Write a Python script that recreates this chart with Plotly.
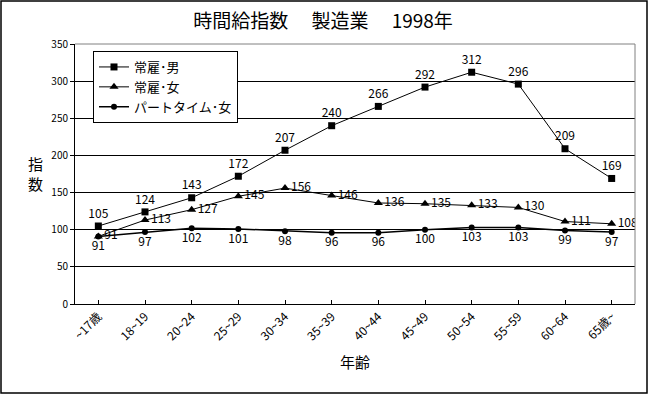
import plotly.graph_objects as go

categories = ["~17歳", "18~19", "20~24", "25~29", "30~34", "35~39",
              "40~44", "45~49", "50~54", "55~59", "60~64", "65歳~"]
male_regular = [105, 124, 143, 172, 207, 240, 266, 292, 312, 296, 209, 169]
female_regular = [91, 113, 127, 145, 156, 146, 136, 135, 133, 130, 111, 108]
female_parttime = [91, 97, 102, 101, 98, 96, 96, 100, 103, 103, 99, 97]
series_names = ["常雇･男", "常雇･女", "パートタイム･女"]
y_ticks = [0, 50, 100, 150, 200, 250, 300, 350]

W, H = 649, 395
ML, MR, MT, MB = 75, 14, 44, 91
PW, PH = W - ML - MR, H - MT - MB

FONT = "Noto Sans CJK JP, Liberation Sans, sans-serif"

fig = go.Figure()
fig.add_trace(go.Scatter(
    x=categories, y=male_regular, name=series_names[0],
    mode="lines+markers+text", text=[str(v) for v in male_regular],
    textposition="top center", textfont=dict(size=12, color="black"),
    line=dict(color="black", width=1),
    marker=dict(symbol="square", size=7, color="black")))
fig.add_trace(go.Scatter(
    x=categories, y=female_regular, name=series_names[1],
    mode="lines+markers+text", text=[str(v) for v in female_regular],
    textposition="middle right", textfont=dict(size=12, color="black"),
    line=dict(color="black", width=1),
    marker=dict(symbol="triangle-up", size=8, color="black")))
fig.add_trace(go.Scatter(
    x=categories, y=female_parttime, name=series_names[2],
    mode="lines+markers+text", text=[str(v) for v in female_parttime],
    textposition="bottom center", textfont=dict(size=12, color="black"),
    line=dict(color="black", width=1.5),
    marker=dict(symbol="circle", size=6, color="black")))

# frame around the whole chart and gray top/right plot edges
fig.add_shape(type="rect", xref="paper", yref="paper",
              x0=(1 - ML) / PW, x1=(W - 2 - ML) / PW,
              y0=-(MB - 2) / PH, y1=1 + (MT - 1) / PH,
              line=dict(color="black", width=1.5), layer="above")
fig.add_shape(type="line", xref="paper", yref="paper", x0=0, x1=1, y0=1, y1=1,
              line=dict(color="#808080", width=1))
fig.add_shape(type="line", xref="paper", yref="paper", x0=1, x1=1, y0=0, y1=1,
              line=dict(color="#808080", width=1))

# vertical (upright) y-axis title
fig.add_annotation(text="指<br>数", xref="paper", yref="paper",
                   x=(35 - ML) / PW, y=1 - (173 - MT) / PH, showarrow=False,
                   xanchor="center", yanchor="middle",
                   font=dict(size=15, family=FONT, color="black"))

fig.update_layout(
    width=W, height=H,
    margin=dict(l=ML, r=MR, t=MT, b=MB, autoexpand=False),
    paper_bgcolor="white", plot_bgcolor="white",
    font=dict(family=FONT, size=11, color="black"),
    title=dict(text="時間給指数　 製造業　 1998年", x=(323 - ML) / PW,
               xref="paper", xanchor="center",
               y=1 - 21 / H, yanchor="middle",
               font=dict(size=19, family=FONT, color="black")),
    showlegend=True,
    legend=dict(x=(93 - ML) / PW, y=1 - (51 - MT) / PH, xanchor="left", yanchor="top",
                bgcolor="white", bordercolor="black", borderwidth=1,
                font=dict(size=13, family=FONT), tracegroupgap=2,
                itemwidth=30),
    xaxis=dict(type="category", categoryorder="array", categoryarray=categories,
               tickangle=-45, showline=True, linecolor="black", linewidth=1,
               ticks="inside", ticklen=4, tickcolor="black",
               showgrid=False, zeroline=False, automargin=False,
               tickfont=dict(size=12, family=FONT),
               title=dict(text="年齢", font=dict(size=15, family=FONT)),
               range=[-0.5, len(categories) - 0.5]),
    yaxis=dict(range=[0, 350], tickvals=y_ticks, showline=True, linecolor="black",
               linewidth=1, ticks="outside", ticklen=4, tickcolor="black",
               showgrid=True, gridcolor="black", gridwidth=1, zeroline=False,
               automargin=False,
               tickfont=dict(size=10, family=FONT)),
)

fig.write_html("out.html", config={"displayModeBar": False},
               post_script="document.body.style.margin='0';document.body.style.overflow='hidden';")
